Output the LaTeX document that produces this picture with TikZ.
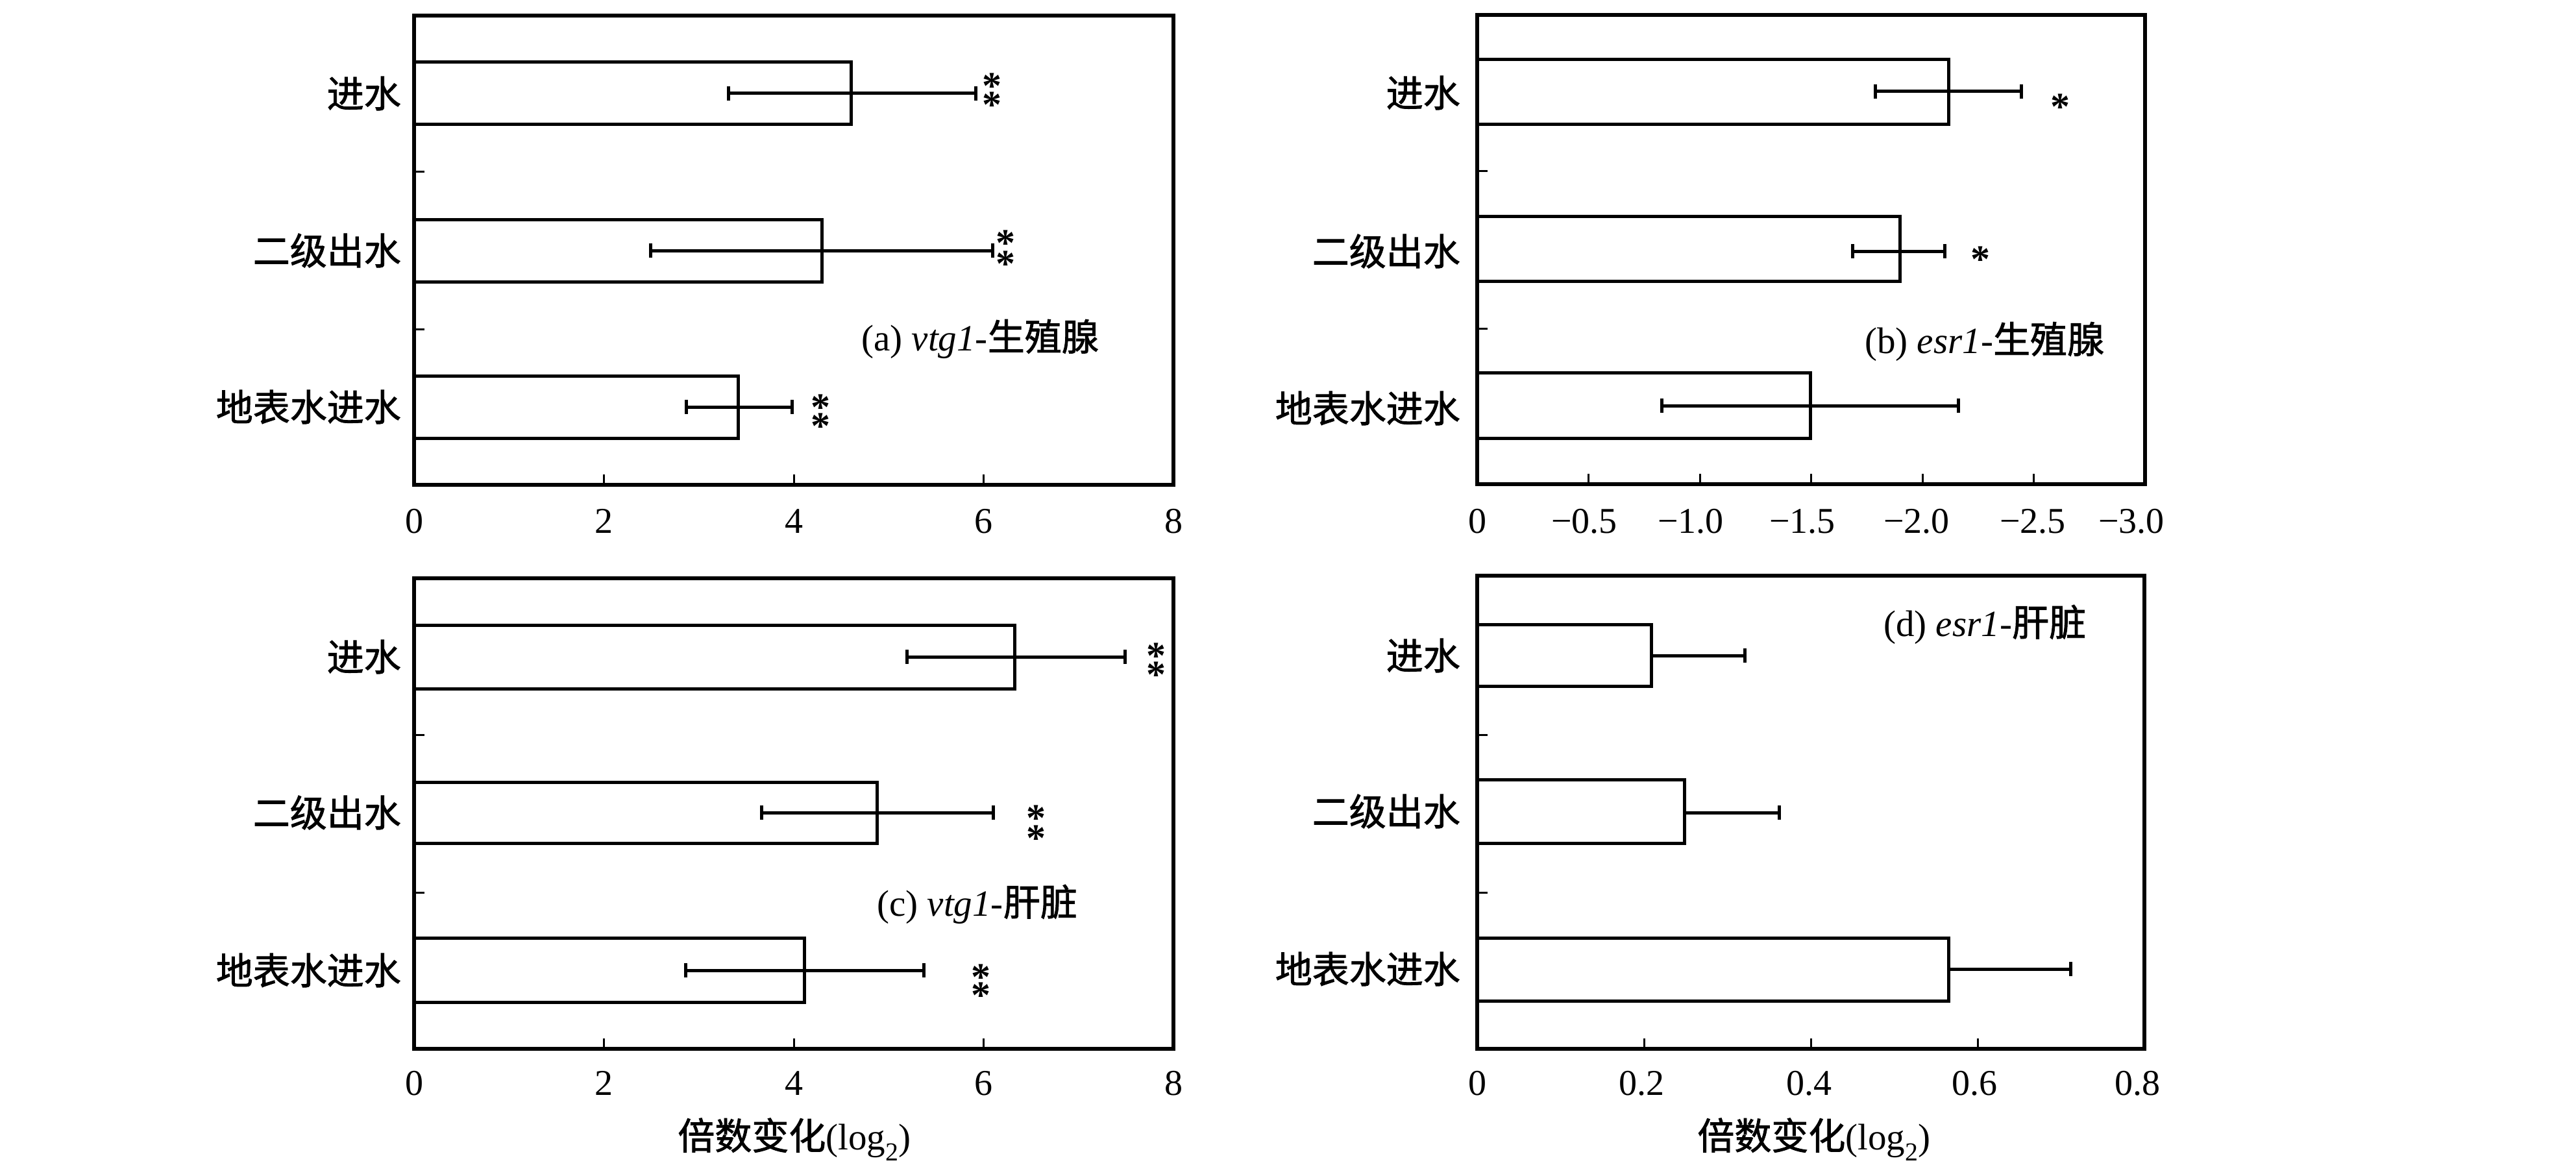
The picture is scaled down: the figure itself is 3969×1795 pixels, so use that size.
\documentclass[tikz,border=0pt]{standalone}
\usepackage{fontspec}
\setmainfont{Liberation Serif}
\newfontfamily\cjk{Noto Sans CJK SC}[FakeBold=1.5]
\newcommand\twostars[1]{\makebox[0pt]{\raisebox{#1pt}{*}}\makebox[0pt]{*}}
\begin{document}
\begin{tikzpicture}[x=1pt,y=-1pt,
  frame/.style={line width=5.5pt},
  barbox/.style={draw,line width=5pt,fill=white},
  errline/.style={line width=5pt},
  tickmark/.style={line width=3pt},
  cat/.style={font=\cjk\fontsize{57}{60}\selectfont,anchor=east,inner sep=0pt},
  num/.style={font=\fontsize{56}{60}\selectfont,inner sep=0pt},
  starmark/.style={font=\bfseries\fontsize{60}{60}\selectfont,inner sep=0pt,anchor=base},
  plabel/.style={font=\fontsize{57}{60}\selectfont,anchor=base west,inner sep=0pt},
  axlabel/.style={font=\fontsize{57}{60}\selectfont,anchor=base,inner sep=0pt}]
\fill[white] (0,0) rectangle (3969,1795);
\useasboundingbox (0,0) rectangle (3969,1795);

% ---------- bars with two-sided error bars (panels a, b, c) ----------
\foreach \xl/\t/\b/\r/\lo/\hi/\e in {
  638/96/192/1311/1122/1503/144,
  638/338/434/1266/1002/1529/386,
  638/579/675/1137/1057/1220/627,
  2276/92/192/3002/2889/3114/141,
  2276/333/433/2927/2854/2996/387,
  2276/574/675/2789/2560/3017/625,
  638/963/1061/1563/1397/1733/1012,
  638/1205/1299/1351/1173/1530/1252,
  638/1445/1544/1239/1056/1423/1495}{
  \draw[barbox] (\xl,\t) rectangle (\r,\b);
  \draw[errline] (\lo,\e) -- (\hi,\e);
  \draw[errline] (\lo,\e-11) -- (\lo,\e+11);
  \draw[errline] (\hi,\e-11) -- (\hi,\e+11);
}
% ---------- panel d: one-sided error bars ----------
\foreach \t/\b/\r/\hi/\e in {
  962/1057/2544/2688/1010,
  1201/1299/2595/2741/1252,
  1445/1542/3002/3190/1493}{
  \draw[barbox] (2276,\t) rectangle (\r,\b);
  \draw[errline] (\r,\e) -- (\hi,\e);
  \draw[errline] (\hi,\e-11) -- (\hi,\e+11);
}

% ---------- frames ----------
\draw[frame] (638,24) rectangle (1808,747);
\draw[frame] (2276,23) rectangle (3305,746);
\draw[frame] (638,891) rectangle (1808,1616);
\draw[frame] (2276,887) rectangle (3304,1616);

% ---------- ticks ----------
\foreach \y in {265,507} \draw[tickmark] (638,\y) -- (654,\y);
\foreach \y in {264,506} \draw[tickmark] (2276,\y) -- (2292,\y);
\foreach \y in {1132,1375} \draw[tickmark] (638,\y) -- (654,\y);
\foreach \y in {1132,1375} \draw[tickmark] (2276,\y) -- (2292,\y);
\foreach \x in {930.5,1223,1515.5} \draw[tickmark] (\x,747) -- (\x,731);
\foreach \x in {2447.5,2619,2790.5,2962,3133.5} \draw[tickmark] (\x,746) -- (\x,730);
\foreach \x in {930.5,1223,1515.5} \draw[tickmark] (\x,1616) -- (\x,1600);
\foreach \x in {2533,2790,3047} \draw[tickmark] (\x,1616) -- (\x,1600);

% ---------- tick labels ----------
\node[num] (ta0) at (638,803) {0};
\node[num] (ta2) at (930.5,803) {2};
\node[num] (ta4) at (1223,803) {4};
\node[num] (ta6) at (1515.5,803) {6};
\node[num] (ta8) at (1808,803) {8};
\node[num] (tb0) at (2276,803) {0};
\node[num] (tb1) at (2441,803) {−0.5};
\node[num] (tb2) at (2605,803) {−1.0};
\node[num] (tb3) at (2777,803) {−1.5};
\node[num] (tb4) at (2953,803) {−2.0};
\node[num] (tb5) at (3132,803) {−2.5};
\node[num] (tb6) at (3284,803) {−3.0};
\node[num] (tc0) at (638,1669) {0};
\node[num] (tc2) at (930.5,1669) {2};
\node[num] (tc4) at (1223,1669) {4};
\node[num] (tc6) at (1515.5,1669) {6};
\node[num] (tc8) at (1808,1669) {8};
\node[num] (td0) at (2276,1669) {0};
\node[num] (td2) at (2529,1669) {0.2};
\node[num] (td4) at (2787,1669) {0.4};
\node[num] (td6) at (3042,1669) {0.6};
\node[num] (td8) at (3293,1669) {0.8};

% ---------- category labels ----------
\node[cat] (ca1) at (618,144) {进水};
\node[cat] (ca2) at (618,386) {二级出水};
\node[cat] (ca3) at (618,627) {地表水进水};
\node[cat] (cb1) at (2250,143) {进水};
\node[cat] (cb2) at (2250,387) {二级出水};
\node[cat] (cb3) at (2250,629) {地表水进水};
\node[cat] (cc1) at (618,1012) {进水};
\node[cat] (cc2) at (618,1252) {二级出水};
\node[cat] (cc3) at (618,1495) {地表水进水};
\node[cat] (cd1) at (2250,1010) {进水};
\node[cat] (cd2) at (2250,1250) {二级出水};
\node[cat] (cd3) at (2250,1493) {地表水进水};

% ---------- significance marks (baseline of lower star = its centre + 30) ----------
\node[starmark] (sa1) at (1528,182) {\twostars{29}};
\node[starmark] (sa2) at (1549,426) {\twostars{32}};
\node[starmark] (sa3) at (1264,676) {\twostars{29}};
\node[starmark] (sb1) at (3174,185) {*};
\node[starmark] (sb2) at (3051,419) {*};
\node[starmark] (sc1) at (1781,1059) {\twostars{29}};
\node[starmark] (sc2) at (1596,1311) {\twostars{31}};
\node[starmark] (sc3) at (1511,1553) {\twostars{28}};

% ---------- panel labels ----------
\node[plabel] (la) at (1327,540) {(a) \textit{vtg1}-{\cjk 生殖腺}};
\node[plabel] (lb) at (2873,544) {(b) \textit{esr1}-{\cjk 生殖腺}};
\node[plabel] (lc) at (1351,1411) {(c) \textit{vtg1}-{\cjk 肝脏}};
\node[plabel] (ld) at (2902,980) {(d) \textit{esr1}-{\cjk 肝脏}};

% ---------- axis titles ----------
\node[axlabel] (axc) at (1224,1771) {{\cjk 倍数变化}(log\textsubscript{2})};
\node[axlabel] (axd) at (2795,1771) {{\cjk 倍数变化}(log\textsubscript{2})};
\end{tikzpicture}
\end{document}
